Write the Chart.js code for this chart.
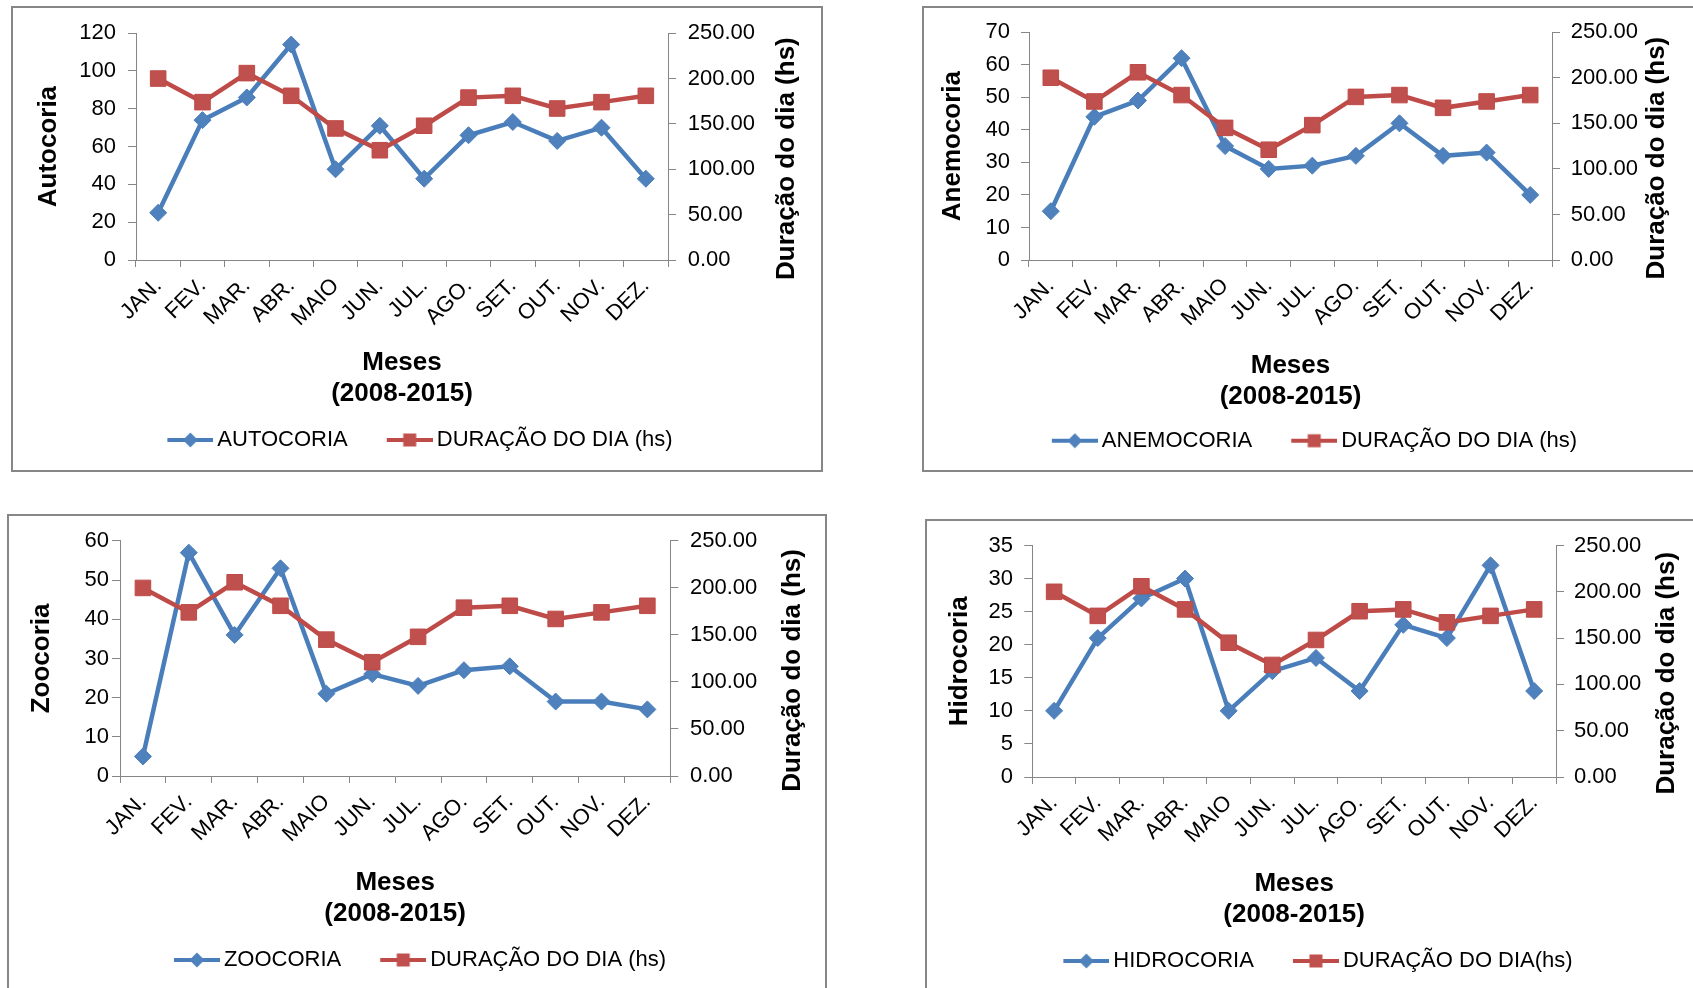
<!DOCTYPE html>
<html>
<head>
<meta charset="utf-8">
<script src="https://cdn.jsdelivr.net/npm/chart.js@4.4.1/dist/chart.umd.min.js"></script>
<style>
  html, body { margin: 0; padding: 0; background: #fff; width: 1693px; height: 988px; overflow: hidden; position: relative; }
  .frame { position: absolute; border: 2px solid #878787; box-sizing: border-box; }
  canvas { position: absolute; }
</style>
</head>
<body>
<div class="frame" style="left:11px;top:6px;width:812px;height:466px"></div>
<div class="frame" style="left:922px;top:6px;width:900px;height:466px"></div>
<div class="frame" style="left:7px;top:514px;width:820px;height:500px"></div>
<div class="frame" style="left:925px;top:519px;width:900px;height:500px"></div>
<canvas id="c1" width="808" height="462" style="left:13px;top:8px"></canvas>
<canvas id="c2" width="769" height="462" style="left:924px;top:8px"></canvas>
<canvas id="c3" width="816" height="472" style="left:9px;top:516px"></canvas>
<canvas id="c4" width="766" height="467" style="left:927px;top:521px"></canvas>
<script>
// Months of the year (2008-2015 averages)
const months = ['JAN.', 'FEV.', 'MAR.', 'ABR.', 'MAIO', 'JUN.', 'JUL.', 'AGO.', 'SET.', 'OUT.', 'NOV.', 'DEZ.'];

// Day length (hs), right-hand axis of every panel
const dayLength = [200, 174, 206, 181, 145, 121, 148, 179, 181, 167, 174, 181];
const dayTicks = [0, 50, 100, 150, 200, 250];

// Dispersal syndromes, left-hand axes
const autocoria = [25, 74, 86, 114, 48, 71, 43, 66, 73, 63, 70, 43];
const anemocoria = [15, 44, 49, 62, 35, 28, 29, 32, 42, 32, 33, 20];
const zoocoria = [5, 57, 36, 53, 21, 26, 23, 27, 28, 19, 19, 17];
const hidrocoria = [10, 21, 27, 30, 10, 16, 18, 13, 23, 21, 32, 13];

const autoTicks = [0, 20, 40, 60, 80, 100, 120];
const anemoTicks = [0, 10, 20, 30, 40, 50, 60, 70];
const zooTicks = [0, 10, 20, 30, 40, 50, 60];
const hidroTicks = [0, 5, 10, 15, 20, 25, 30, 35];

const FONT = "'Liberation Sans', Arial, sans-serif";
const BLUE = '#4A7EBB', BLUE_FILL = '#4F81BD';
const RED = '#BE4B48', RED_FILL = '#C0504D';
const AXIS = '#868686';

Chart.defaults.font.family = FONT;
Chart.defaults.font.size = 22;
Chart.defaults.color = '#000';

// Legend swatch: a line segment with the series marker in the middle
function legendSample(stroke, fill, marker) {
  const c = document.createElement('canvas');
  c.width = 82; c.height = 22;
  const g = c.getContext('2d');
  g.strokeStyle = stroke; g.lineWidth = 4;
  g.beginPath(); g.moveTo(36, 11); g.lineTo(82, 11); g.stroke();
  g.fillStyle = fill;
  if (marker === 'diamond') {
    g.beginPath(); g.moveTo(59, 3.5); g.lineTo(66.5, 11); g.lineTo(59, 18.5); g.lineTo(51.5, 11); g.closePath(); g.fill();
  } else {
    g.fillRect(52.5, 4.5, 13, 13);
  }
  return c;
}
const blueSample = legendSample(BLUE, BLUE_FILL, 'diamond');
const redSample = legendSample(RED, RED_FILL, 'square');

// Secondary axis title, read bottom-to-top
const rightTitle = {
  id: 'rightTitle',
  afterDraw(chart, args, opts) {
    const s = chart.scales.y2, a = chart.chartArea, ctx = chart.ctx;
    ctx.save();
    ctx.translate(s.left + opts.dx, (a.top + a.bottom) / 2 + opts.dy);
    ctx.rotate(-Math.PI / 2);
    ctx.font = 'bold 26px ' + FONT;
    ctx.fillStyle = '#000';
    ctx.textAlign = 'center';
    ctx.textBaseline = 'middle';
    ctx.fillText(opts.text, 0, 0);
    ctx.restore();
  }
};

function makeChart(id, cfg) {
  const samples = [blueSample, redSample];
  return new Chart(document.getElementById(id), {
    type: 'line',
    plugins: [rightTitle],
    data: {
      labels: months,
      datasets: [
        {
          label: cfg.name, data: cfg.values, yAxisID: 'y', order: 1,
          borderColor: BLUE, backgroundColor: BLUE_FILL, borderWidth: 4.5, tension: 0,
          pointStyle: 'rectRot', pointRadius: 8.5, pointBorderWidth: 1,
          pointBackgroundColor: BLUE_FILL, pointBorderColor: BLUE
        },
        {
          label: cfg.dayLabel, data: dayLength, yAxisID: 'y2', order: 0,
          borderColor: RED, backgroundColor: RED_FILL, borderWidth: 4.5, tension: 0,
          pointStyle: 'rect', pointRadius: 11, pointBorderWidth: 1,
          pointBackgroundColor: RED_FILL, pointBorderColor: RED
        }
      ]
    },
    options: {
      responsive: false,
      animation: false,
      devicePixelRatio: 1,
      layout: { padding: { left: 0, right: cfg.pr, top: cfg.pt, bottom: cfg.pb } },
      plugins: {
        tooltip: { enabled: false },
        rightTitle: { text: 'Duração do dia (hs)', dx: cfg.rtDx, dy: 12 },
        legend: {
          position: 'bottom',
          align: 'center',
          labels: {
            usePointStyle: true,
            pointStyleWidth: 68,
            padding: 10,
            font: { size: 22 },
            color: '#000',
            generateLabels: (chart) => chart.data.datasets.map((ds, i) => ({
              text: ds.label, datasetIndex: i, hidden: false,
              pointStyle: samples[i], fillStyle: ds.borderColor,
              strokeStyle: ds.borderColor, lineWidth: 0, fontColor: '#000'
            }))
          }
        }
      },
      scales: {
        x: {
          type: 'category',
          offset: true,
          grid: { offset: true, drawOnChartArea: false, drawTicks: true, tickLength: 7, color: AXIS },
          border: { display: true, color: AXIS, width: 1 },
          ticks: { autoSkip: false, minRotation: 45, maxRotation: 45, padding: 6, font: { size: 22 }, color: '#000' },
          title: {
            display: true, text: ['Meses', '(2008-2015)'], color: '#000',
            font: { size: 26, weight: 'bold', lineHeight: 1.2 },
            padding: { top: 0, bottom: cfg.xTitlePad }
          },
          afterFit: (s) => { s.height = cfg.xH; }
        },
        y: {
          position: 'left',
          min: cfg.ticks[0], max: cfg.ticks[cfg.ticks.length - 1],
          grid: { drawOnChartArea: false, drawTicks: true, tickLength: 8, color: AXIS },
          border: { display: true, color: AXIS, width: 1 },
          ticks: { stepSize: cfg.ticks[1] - cfg.ticks[0], padding: cfg.lPad, font: { size: 22 }, color: '#000' },
          title: {
            display: true, text: cfg.axisTitle, color: '#000',
            font: { size: 26, weight: 'bold', lineHeight: 1.2 },
            padding: { top: cfg.lTitlePad, bottom: 0 }
          },
          afterFit: (s) => { s.width = cfg.leftW; }
        },
        y2: {
          position: 'right',
          min: dayTicks[0], max: dayTicks[dayTicks.length - 1],
          grid: { drawOnChartArea: false, drawTicks: true, tickLength: 8, color: AXIS },
          border: { display: true, color: AXIS, width: 1 },
          ticks: {
            stepSize: dayTicks[1] - dayTicks[0], padding: cfg.rPad, font: { size: 22 }, color: '#000',
            callback: (v) => Number(v).toFixed(2)
          },
          afterFit: (s) => { s.width = cfg.rightW; }
        }
      }
    }
  });
}

makeChart('c1', {
  name: 'AUTOCORIA', dayLabel: 'DURAÇÃO DO DIA (hs)', axisTitle: 'Autocoria',
  values: autocoria, ticks: autoTicks,
  pt: 22, pb: 9, pr: 23, leftW: 123, rightW: 130, lPad: 12, rPad: 11.7,
  lTitlePad: 20.4, xH: 159, xTitlePad: 9.7, rtDx: 118.7
});
makeChart('c2', {
  name: 'ANEMOCORIA', dayLabel: 'DURAÇÃO DO DIA (hs)', axisTitle: 'Anemocoria',
  values: anemocoria, ticks: anemoTicks,
  pt: 22, pb: 8.3, pr: 17, leftW: 105, rightW: 124, lPad: 11, rPad: 10.7,
  lTitlePad: 13.4, xH: 159.7, xTitlePad: 7.4, rtDx: 105
});
makeChart('c3', {
  name: 'ZOOCORIA', dayLabel: 'DURAÇÃO DO DIA (hs)', axisTitle: 'Zoocoria',
  values: zoocoria, ticks: zooTicks,
  pt: 24, pb: 7, pr: 23, leftW: 111, rightW: 131.7, lPad: 3, rPad: 11.7,
  lTitlePad: 17.1, xH: 163, xTitlePad: 9.7, rtDx: 122.7
});
makeChart('c4', {
  name: 'HIDROCORIA', dayLabel: 'DURAÇÃO DO DIA(hs)', axisTitle: 'Hidrocoria',
  values: hidrocoria, ticks: hidroTicks,
  pt: 22, pb: 6, pr: 13, leftW: 105.3, rightW: 124, lPad: 11.3, rPad: 10,
  lTitlePad: 17.4, xH: 163, xTitlePad: 9.4, rtDx: 110.7
});
</script>
</body>
</html>
